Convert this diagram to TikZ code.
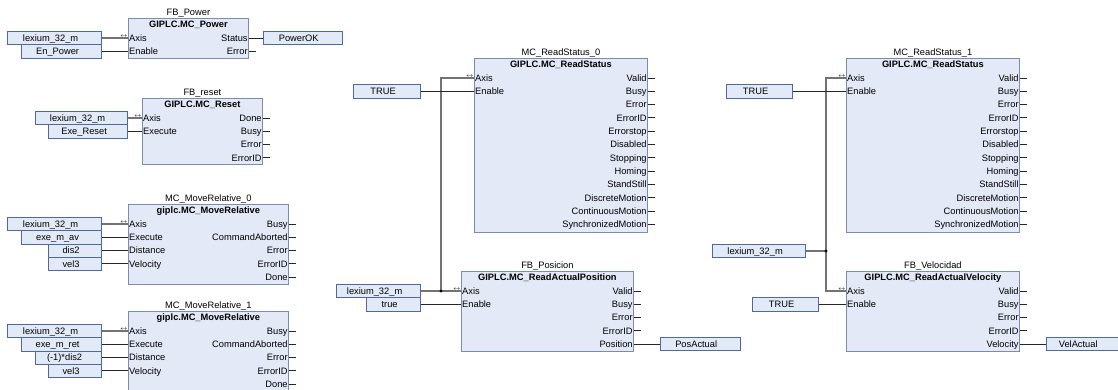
\documentclass[tikz,border=0pt]{standalone}
\usepackage{fontspec}
\setmainfont{Liberation Sans}
\usepackage{tikz}
\usetikzlibrary{arrows.meta}
\usetikzlibrary{positioning,calc}

\definecolor{blkfill}{RGB}{227,233,246}
\definecolor{blkline}{RGB}{122,140,176}
\definecolor{varfill}{RGB}{226,233,247}
\definecolor{varline}{RGB}{78,104,160}

\begin{document}
\begin{tikzpicture}[x=1pt,y=-1pt,font=\fontsize{9.3}{11}\selectfont,
	fb/.style={draw=blkline, fill=blkfill, line width=0.8pt, inner sep=0pt, anchor=north west},
	fbname/.style={inner sep=0pt},
	fbtype/.style={inner sep=1pt, font=\fontsize{9.3}{11}\selectfont\bfseries},
	txt/.style={text height=8pt, text depth=1.3pt, inner sep=1pt},
	pinin/.style={txt, anchor=west},
	pinout/.style={txt, anchor=east},
	var/.style={txt, draw=varline, fill=varfill, line width=0.8pt, minimum height=13.3pt,
		execute at end node={\hspace*{8pt}}},
	axm/.style={inner sep=0.3pt, anchor=south east, font=\fontsize{6}{6}\selectfont},
	wire/.style={line width=0.9pt, black!85},
	axwire/.style={line width=1.5pt, black!55}]

		\useasboundingbox (0,0) rectangle (1118,390);
		\clip (0,0) rectangle (1118,390);
		\fill[white] (0,0) rectangle (1118,390);

		% FB_Power
		\node[fb, minimum width=120pt, minimum height=40pt] (pw) at (128,18) {};
		\node[fbname, above=0pt of pw] (pw-n) {FB\_Power};
		\node[fbtype, below=2pt of pw.north] (pw-t) {GIPLC.MC\_Power};
		\foreach \s [count=\i from 0] in {Axis,Enable} {
			\coordinate (pw-i\i) at ($(pw.north west)+(0,20+13.3*\i)$);
			\node[pinin] (pw-il\i) at (pw-i\i) {\s};
		}
		\foreach \s [count=\i from 0] in {Status,Error} {
			\coordinate (pw-o\i) at ($(pw.north east)+(0,20+13.3*\i)$);
			\node[pinout] (pw-ol\i) at (pw-o\i) {\s};
			\draw[wire] (pw-o\i) -- ++(7,0);
		}
		\node[axm] (pw-m) at (pw-i0) {$\leftrightarrow$};
		\node[var, minimum width=94pt, left=26pt of pw-i0] (pw-v0) {lexium\_32\_m};
		\node[var, minimum width=80pt, left=26pt of pw-i1] (pw-v1) {En\_Power};
		\node[var, minimum width=79pt, right=14pt of pw-o0] (pw-v2) {PowerOK};
		\draw[axwire] (pw-v0) -- (pw-i0);
		\draw[wire] (pw-v1) -- (pw-i1);
		\draw[wire] (pw-o0) -- (pw-v2);

		% FB_reset
		\node[fb, minimum width=120pt, minimum height=66pt] (rs) at (142,98) {};
		\node[fbname, above=0pt of rs] (rs-n) {FB\_reset};
		\node[fbtype, below=2pt of rs.north] (rs-t) {GIPLC.MC\_Reset};
		\foreach \s [count=\i from 0] in {Axis,Execute} {
			\coordinate (rs-i\i) at ($(rs.north west)+(0,20+13.3*\i)$);
			\node[pinin] (rs-il\i) at (rs-i\i) {\s};
		}
		\foreach \s [count=\i from 0] in {Done,Busy,Error,ErrorID} {
			\coordinate (rs-o\i) at ($(rs.north east)+(0,20+13.3*\i)$);
			\node[pinout] (rs-ol\i) at (rs-o\i) {\s};
			\draw[wire] (rs-o\i) -- ++(7,0);
		}
		\node[axm] (rs-m) at (rs-i0) {$\leftrightarrow$};
		\node[var, minimum width=92pt, left=14pt of rs-i0] (rs-v0) {lexium\_32\_m};
		\node[var, minimum width=79pt, left=14pt of rs-i1] (rs-v1) {Exe\_Reset};
		\draw[axwire] (rs-v0) -- (rs-i0);
		\draw[wire] (rs-v1) -- (rs-i1);

		% MC_MoveRelative_0
		\node[fb, minimum width=160pt, minimum height=80pt] (mr0) at (128,204) {};
		\node[fbname, above=0pt of mr0] (mr0-n) {MC\_MoveRelative\_0};
		\node[fbtype, below=2pt of mr0.north] (mr0-t) {giplc.MC\_MoveRelative};
		\foreach \s [count=\i from 0] in {Axis,Execute,Distance,Velocity} {
			\coordinate (mr0-i\i) at ($(mr0.north west)+(0,20+13.3*\i)$);
			\node[pinin] (mr0-il\i) at (mr0-i\i) {\s};
		}
		\foreach \s [count=\i from 0] in {Busy,CommandAborted\ ,Error,ErrorID,Done} {
			\coordinate (mr0-o\i) at ($(mr0.north east)+(0,20+13.3*\i)$);
			\node[pinout] (mr0-ol\i) at (mr0-o\i) {\s};
			\draw[wire] (mr0-o\i) -- ++(7,0);
		}
		\node[axm] (mr0-m) at (mr0-i0) {$\leftrightarrow$};
		\node[var, minimum width=94pt, left=26pt of mr0-i0] (mr0-v0) {lexium\_32\_m};
		\node[var, minimum width=80pt, left=26pt of mr0-i1] (mr0-v1) {exe\_m\_av};
		\node[var, minimum width=53pt, left=26pt of mr0-i2] (mr0-v2) {dis2};
		\node[var, minimum width=53pt, left=26pt of mr0-i3] (mr0-v3) {vel3};
		\draw[axwire] (mr0-v0) -- (mr0-i0);
		\foreach \i in {1,2,3}
			\draw[wire] (mr0-v\i) -- (mr0-i\i);

		% MC_MoveRelative_1
		\node[fb, minimum width=160pt, minimum height=80pt] (mr1) at (128,311) {};
		\node[fbname, above=0pt of mr1] (mr1-n) {MC\_MoveRelative\_1};
		\node[fbtype, below=2pt of mr1.north] (mr1-t) {giplc.MC\_MoveRelative};
		\foreach \s [count=\i from 0] in {Axis,Execute,Distance,Velocity} {
			\coordinate (mr1-i\i) at ($(mr1.north west)+(0,20+13.3*\i)$);
			\node[pinin] (mr1-il\i) at (mr1-i\i) {\s};
		}
		\foreach \s [count=\i from 0] in {Busy,CommandAborted\ ,Error,ErrorID,Done} {
			\coordinate (mr1-o\i) at ($(mr1.north east)+(0,20+13.3*\i)$);
			\node[pinout] (mr1-ol\i) at (mr1-o\i) {\s};
			\draw[wire] (mr1-o\i) -- ++(7,0);
		}
		\node[axm] (mr1-m) at (mr1-i0) {$\leftrightarrow$};
		\node[var, minimum width=94pt, left=26pt of mr1-i0] (mr1-v0) {lexium\_32\_m};
		\node[var, minimum width=80pt, left=26pt of mr1-i1] (mr1-v1) {exe\_m\_ret};
		\node[var, minimum width=66pt, left=26pt of mr1-i2] (mr1-v2) {(-1)*dis2};
		\node[var, minimum width=53pt, left=26pt of mr1-i3] (mr1-v3) {vel3};
		\draw[axwire] (mr1-v0) -- (mr1-i0);
		\foreach \i in {1,2,3}
			\draw[wire] (mr1-v\i) -- (mr1-i\i);

		% MC_ReadStatus_0
		\node[fb, minimum width=173pt, minimum height=174pt] (st0) at (474,58) {};
		\node[fbname, above=0pt of st0] (st0-n) {MC\_ReadStatus\_0};
		\node[fbtype, below=2pt of st0.north] (st0-t) {GIPLC.MC\_ReadStatus};
		\foreach \s [count=\i from 0] in {Axis,Enable} {
			\coordinate (st0-i\i) at ($(st0.north west)+(0,20+13.3*\i)$);
			\node[pinin] (st0-il\i) at (st0-i\i) {\s};
		}
		\foreach \s [count=\i from 0] in {Valid,Busy,Error,ErrorID,Errorstop,Disabled,Stopping\ ,
				Homing,StandStill,DiscreteMotion,ContinuousMotion\ ,SynchronizedMotion} {
			\coordinate (st0-o\i) at ($(st0.north east)+(0,20+13.3*\i)$);
			\node[pinout] (st0-ol\i) at (st0-o\i) {\s};
			\draw[wire] (st0-o\i) -- ++(7,0);
		}
		\node[axm] (st0-m) at (st0-i0) {$\leftrightarrow$};
		\node[var, minimum width=67pt, left=53pt of st0-i1] (st0-v1) {TRUE};

		% FB_Posicion
		\node[fb, minimum width=172pt, minimum height=80pt] (ps) at (461,271) {};
		\node[fbname, above=0pt of ps] (ps-n) {FB\_Posicion};
		\node[fbtype, below=2pt of ps.north] (ps-t) {GIPLC.MC\_ReadActualPosition};
		\foreach \s [count=\i from 0] in {Axis,Enable} {
			\coordinate (ps-i\i) at ($(ps.north west)+(0,20+13.3*\i)$);
			\node[pinin] (ps-il\i) at (ps-i\i) {\s};
		}
		\foreach \s [count=\i from 0] in {Valid,Busy,Error,ErrorID,Position} {
			\coordinate (ps-o\i) at ($(ps.north east)+(0,20+13.3*\i)$);
			\node[pinout] (ps-ol\i) at (ps-o\i) {\s};
			\draw[wire] (ps-o\i) -- ++(7,0);
		}
		\node[axm] (ps-m) at (ps-i0) {$\leftrightarrow$};
		\node[var, minimum width=84pt, left=40pt of ps-i0] (ps-v0) {lexium\_32\_m};
		\node[var, minimum width=54pt, left=40pt of ps-i1] (ps-v1) {true};
		\node[var, minimum width=80pt, right=26pt of ps-o4] (ps-v2) {PosActual};
		\coordinate[right=20pt of ps-v0] (ja);
		\draw[axwire] (ps-v0) -- (ps-i0);
		\draw[axwire] (ja) |- (st0-i0);
		\fill (ja) circle (1.7);
		\draw[wire] (st0-v1) -- (st0-i1);
		\draw[wire] (ps-v1) -- (ps-i1);
		\draw[wire] (ps-o4) -- (ps-v2);

		% MC_ReadStatus_1
		\node[fb, minimum width=173pt, minimum height=174pt] (st1) at (846,58) {};
		\node[fbname, above=0pt of st1] (st1-n) {MC\_ReadStatus\_1};
		\node[fbtype, below=2pt of st1.north] (st1-t) {GIPLC.MC\_ReadStatus};
		\foreach \s [count=\i from 0] in {Axis,Enable} {
			\coordinate (st1-i\i) at ($(st1.north west)+(0,20+13.3*\i)$);
			\node[pinin] (st1-il\i) at (st1-i\i) {\s};
		}
		\foreach \s [count=\i from 0] in {Valid,Busy,Error,ErrorID,Errorstop,Disabled,Stopping\ ,
				Homing,StandStill,DiscreteMotion,ContinuousMotion\ ,SynchronizedMotion} {
			\coordinate (st1-o\i) at ($(st1.north east)+(0,20+13.3*\i)$);
			\node[pinout] (st1-ol\i) at (st1-o\i) {\s};
			\draw[wire] (st1-o\i) -- ++(7,0);
		}
		\node[axm] (st1-m) at (st1-i0) {$\leftrightarrow$};
		\node[var, minimum width=66pt, left=53pt of st1-i1] (st1-v1) {TRUE};

		% FB_Velocidad
		\node[fb, minimum width=173pt, minimum height=80pt] (vl) at (846,271) {};
		\node[fbname, above=0pt of vl] (vl-n) {FB\_Velocidad};
		\node[fbtype, below=2pt of vl.north] (vl-t) {GIPLC.MC\_ReadActualVelocity};
		\foreach \s [count=\i from 0] in {Axis,Enable} {
			\coordinate (vl-i\i) at ($(vl.north west)+(0,20+13.3*\i)$);
			\node[pinin] (vl-il\i) at (vl-i\i) {\s};
		}
		\foreach \s [count=\i from 0] in {Valid,Busy,Error,ErrorID,Velocity} {
			\coordinate (vl-o\i) at ($(vl.north east)+(0,20+13.3*\i)$);
			\node[pinout] (vl-ol\i) at (vl-o\i) {\s};
			\draw[wire] (vl-o\i) -- ++(7,0);
		}
		\node[axm] (vl-m) at (vl-i0) {$\leftrightarrow$};
		\node[var, minimum width=93pt, anchor=east] (vl-v0) at (806,251) {lexium\_32\_m};
		\node[var, minimum width=66pt, left=27pt of vl-i1] (vl-v1) {TRUE};
		\node[var, minimum width=72pt, right=26pt of vl-o4] (vl-v2) {VelActual};
		\coordinate[right=20pt of vl-v0] (jb);
		\draw[axwire] (vl-v0) -- (jb);
		\draw[axwire] (st1-i0) -| (jb) |- (vl-i0);
		\fill (jb) circle (1.7);
		\draw[wire] (st1-v1) -- (st1-i1);
		\draw[wire] (vl-v1) -- (vl-i1);
		\draw[wire] (vl-o4) -- (vl-v2);

\end{tikzpicture}
\end{document}
